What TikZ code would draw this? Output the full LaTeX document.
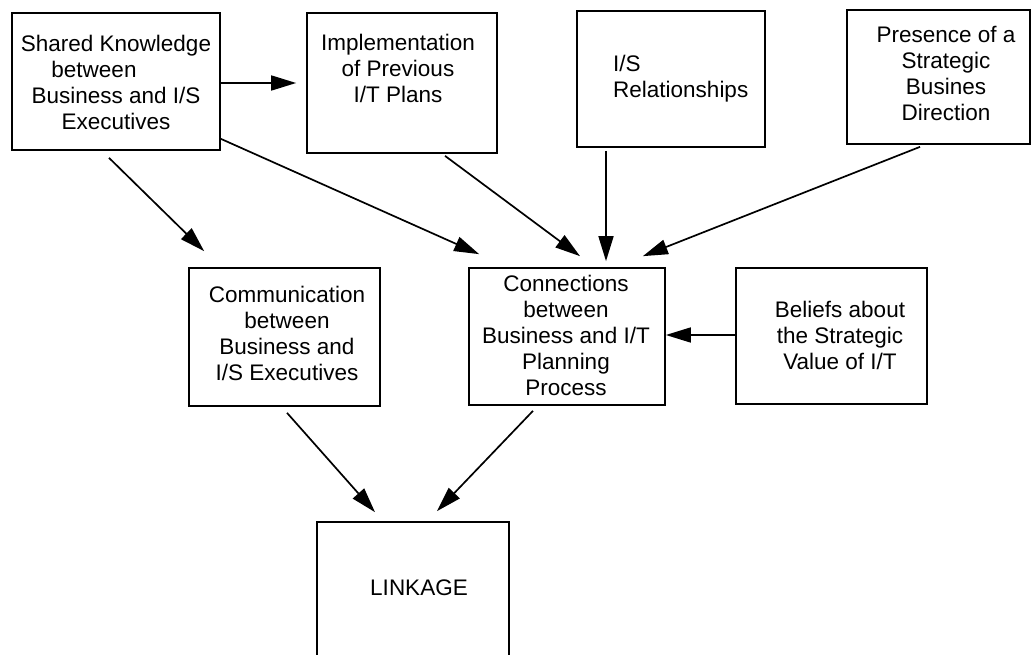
\documentclass[tikz,border=0pt]{standalone}
\usepackage{fontspec}
\setmainfont{Liberation Sans}
\usetikzlibrary{arrows.meta}
\begin{document}
\begin{tikzpicture}[x=1pt,y=-1pt,
  box/.style n args={2}{draw,line width=1.7pt,inner sep=0pt,
    minimum width=#1,minimum height=#2},
  txt/.style={font=\fontsize{22.5}{26}\selectfont,align=center,inner sep=0pt},
  arr/.style={line width=1.7pt,-{Triangle[length=25pt,width=15pt]}}]
\useasboundingbox (0,0) rectangle (1032,655);
\clip (0,0) rectangle (1032,655);

% boxes
\node[box={208pt}{137pt}] (sk)   at (116,81.5)  {};
\node[box={190pt}{140pt}] (impl) at (402,83)    {};
\node[box={188pt}{136pt}] (is)   at (671,79)    {};
\node[box={183pt}{134pt}] (pres) at (938.5,77)  {};
\node[box={191pt}{138pt}] (comm) at (284.5,337) {};
\node[box={196pt}{137pt}] (conn) at (567,336.5) {};
\node[box={191pt}{136pt}] (bel)  at (831.5,336) {};
\node[box={192pt}{143pt}] (link) at (413,593.5) {};

% box texts
\node[txt] (sk-t) at (116,82) {Shared Knowledge\\\hspace*{-44pt}between\\Business and I/S\\Executives};
\node[txt] (impl-t) at (398,68) {Implementation\\of Previous\\I/T Plans};
\node[txt,align=left,anchor=west] (is-t) at (613,78.5) {I/S\\Relationships};
\node[txt] (pres-t) at (946,73) {Presence of a\\Strategic\\Busines\\Direction};
\node[txt] (comm-t) at (287,333) {Communication\\between\\Business and\\I/S Executives};
\node[txt] (conn-t) at (566,335) {Connections\\between\\Business and I/T\\Planning\\Process};
\node[txt] (bel-t) at (840,335) {Beliefs about\\the Strategic\\Value of I/T};
\node[txt] (link-t) at (419,588) {LINKAGE};

% connectors
\draw[arr] ([yshift=-1.5pt]sk.east) -- ([xshift=-10pt,yshift=-1.5pt]sk.east -| impl.west);
\draw[arr] ([xshift=-7pt,yshift=-7pt]sk.south) -- ([xshift=16pt,yshift=16pt]comm.north west);
\draw[arr] ([yshift=12pt]sk.south east) -- ([xshift=11pt,yshift=13pt]conn.north west);
\draw[arr] ([xshift=43pt,yshift=-2pt]impl.south) -- ([xshift=13pt,yshift=11pt]conn.north);
\draw[arr] ([xshift=-65pt,yshift=-3pt]is.south) -- ([xshift=39pt,yshift=6pt]conn.north);
\draw[arr] ([xshift=-18.5pt,yshift=-2pt]pres.south) -- ([xshift=-23pt,yshift=11pt]conn.north east);
\draw[arr] ([yshift=1pt]bel.west) -- ([yshift=1pt]bel.west -| conn.east);
\draw[arr] ([xshift=2.5pt,yshift=-6pt]comm.south) -- ([xshift=-38pt,yshift=9pt]link.north);
\draw[arr] ([xshift=-34pt,yshift=-5pt]conn.south) -- ([xshift=24pt,yshift=10pt]link.north);
\end{tikzpicture}
\end{document}
